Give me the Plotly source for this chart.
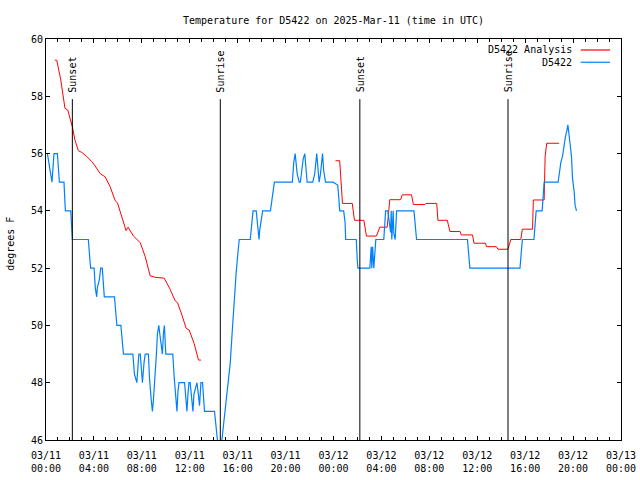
import plotly.graph_objects as go

# ---------------- data ----------------
analysis_times = [
    "2025-03-11 00:44", "2025-03-11 00:54", "2025-03-11 01:14", "2025-03-11 01:35",
    "2025-03-11 01:49", "2025-03-11 02:12", "2025-03-11 02:25", "2025-03-11 02:42",
    "2025-03-11 02:59", "2025-03-11 03:24", "2025-03-11 03:49", "2025-03-11 04:06",
    "2025-03-11 04:31", "2025-03-11 04:56", "2025-03-11 05:21", "2025-03-11 05:46",
    "2025-03-11 05:58", "2025-03-11 06:20", "2025-03-11 06:41", "2025-03-11 06:51",
    "2025-03-11 07:18", "2025-03-11 07:52", "2025-03-11 08:17", "2025-03-11 08:42",
    "2025-03-11 09:07", "2025-03-11 09:52", "2025-03-11 10:19", "2025-03-11 10:47",
    "2025-03-11 10:59", "2025-03-11 11:21", "2025-03-11 11:42", "2025-03-11 11:57",
    "2025-03-11 12:22", "2025-03-11 12:44", "2025-03-11 12:56",
    None,
    "2025-03-12 00:10", "2025-03-12 00:31", "2025-03-12 00:45", "2025-03-12 01:34",
    "2025-03-12 01:45", "2025-03-12 02:32", "2025-03-12 02:45", "2025-03-12 03:35",
    "2025-03-12 03:52", "2025-03-12 04:29", "2025-03-12 04:42", "2025-03-12 05:36",
    "2025-03-12 05:44", "2025-03-12 06:31", "2025-03-12 06:40", "2025-03-12 07:38",
    "2025-03-12 07:43", "2025-03-12 08:37", "2025-03-12 08:43", "2025-03-12 09:30",
    "2025-03-12 09:43", "2025-03-12 10:34", "2025-03-12 10:40", "2025-03-12 11:36",
    "2025-03-12 11:44", "2025-03-12 12:42", "2025-03-12 12:46", "2025-03-12 13:36",
    "2025-03-12 13:44", "2025-03-12 14:34", "2025-03-12 14:48", "2025-03-12 15:38",
    "2025-03-12 15:46", "2025-03-12 16:37", "2025-03-12 16:41", "2025-03-12 17:35",
    "2025-03-12 17:40", "2025-03-12 17:48", "2025-03-12 18:50",
]
analysis_vals = [
    59.26, 59.26, 58.57, 57.58,
    57.52, 56.94, 56.47, 56.10,
    56.04, 55.90, 55.72, 55.57,
    55.30, 55.19, 54.85, 54.36,
    54.28, 53.74, 53.31, 53.43,
    53.12, 52.89, 52.40, 51.73,
    51.68, 51.65, 51.30, 50.86,
    50.79, 50.36, 49.90, 49.84,
    49.37, 48.79, 48.79,
    None,
    55.75, 55.75, 54.26, 54.26,
    53.67, 53.67, 53.12, 53.12,
    53.43, 53.43, 54.39, 54.39,
    54.56, 54.56, 54.22, 54.22,
    54.26, 54.26, 53.67, 53.67,
    53.28, 53.28, 53.16, 53.16,
    52.87, 52.87, 52.75, 52.75,
    52.66, 52.66, 53.00, 53.00,
    53.36, 53.36, 54.38, 54.38,
    55.90, 56.36, 56.36,
]

station_times = [
    "2025-03-11 00:07", "2025-03-11 00:17", "2025-03-11 00:30", "2025-03-11 00:37",
    "2025-03-11 00:40", "2025-03-11 00:57", "2025-03-11 01:07", "2025-03-11 01:30",
    "2025-03-11 01:37", "2025-03-11 02:04", "2025-03-11 02:09", "2025-03-11 02:12",
    "2025-03-11 02:42", "2025-03-11 03:32", "2025-03-11 03:41", "2025-03-11 03:44",
    "2025-03-11 04:01", "2025-03-11 04:07", "2025-03-11 04:14", "2025-03-11 04:17",
    "2025-03-11 04:27", "2025-03-11 04:34", "2025-03-11 04:42", "2025-03-11 04:47",
    "2025-03-11 04:52", "2025-03-11 05:43", "2025-03-11 05:50", "2025-03-11 05:55",
    "2025-03-11 06:15", "2025-03-11 06:20", "2025-03-11 06:28", "2025-03-11 07:15",
    "2025-03-11 07:23", "2025-03-11 07:35", "2025-03-11 07:40", "2025-03-11 07:45",
    "2025-03-11 07:52", "2025-03-11 07:57", "2025-03-11 08:03", "2025-03-11 08:11",
    "2025-03-11 08:17", "2025-03-11 08:33", "2025-03-11 08:38", "2025-03-11 08:47",
    "2025-03-11 08:53", "2025-03-11 08:58", "2025-03-11 09:07", "2025-03-11 09:13",
    "2025-03-11 09:18", "2025-03-11 09:25", "2025-03-11 09:30", "2025-03-11 09:38",
    "2025-03-11 09:43", "2025-03-11 09:48", "2025-03-11 09:53", "2025-03-11 10:00",
    "2025-03-11 10:35", "2025-03-11 10:42", "2025-03-11 10:51", "2025-03-11 10:56",
    "2025-03-11 11:01", "2025-03-11 11:06", "2025-03-11 11:34", "2025-03-11 11:41",
    "2025-03-11 11:46", "2025-03-11 11:51", "2025-03-11 11:56", "2025-03-11 12:02",
    "2025-03-11 12:09", "2025-03-11 12:16", "2025-03-11 12:21", "2025-03-11 12:28",
    "2025-03-11 12:36", "2025-03-11 12:43", "2025-03-11 12:49", "2025-03-11 12:56",
    "2025-03-11 13:04", "2025-03-11 13:09", "2025-03-11 13:14", "2025-03-11 14:04",
    "2025-03-11 14:11", "2025-03-11 14:18", "2025-03-11 14:29", "2025-03-11 14:41",
    "2025-03-11 14:49", "2025-03-11 14:59", "2025-03-11 15:07", "2025-03-11 15:15",
    "2025-03-11 15:23", "2025-03-11 15:32", "2025-03-11 15:40", "2025-03-11 15:52",
    "2025-03-11 16:02", "2025-03-11 16:08", "2025-03-11 17:03", "2025-03-11 17:08",
    "2025-03-11 17:12", "2025-03-11 17:17", "2025-03-11 17:33", "2025-03-11 17:40",
    "2025-03-11 17:47", "2025-03-11 17:50", "2025-03-11 17:57", "2025-03-11 18:05",
    "2025-03-11 18:44", "2025-03-11 18:52", "2025-03-11 18:57", "2025-03-11 19:04",
    "2025-03-11 20:34", "2025-03-11 20:41", "2025-03-11 20:48", "2025-03-11 20:58",
    "2025-03-11 21:08", "2025-03-11 21:14", "2025-03-11 21:21", "2025-03-11 21:28",
    "2025-03-11 21:36", "2025-03-11 21:41", "2025-03-11 21:48", "2025-03-11 22:16",
    "2025-03-11 22:26", "2025-03-11 22:36", "2025-03-11 22:41", "2025-03-11 22:48",
    "2025-03-11 22:55", "2025-03-11 23:05", "2025-03-11 23:11", "2025-03-11 23:20",
    "2025-03-11 23:58", "2025-03-12 00:05", "2025-03-12 00:21", "2025-03-12 00:26",
    "2025-03-12 00:31", "2025-03-12 00:51", "2025-03-12 00:58", "2025-03-12 01:01",
    "2025-03-12 01:54", "2025-03-12 01:59", "2025-03-12 02:02", "2025-03-12 03:02",
    "2025-03-12 03:05", "2025-03-12 03:09", "2025-03-12 03:12", "2025-03-12 03:16",
    "2025-03-12 03:22", "2025-03-12 03:29", "2025-03-12 03:32", "2025-03-12 04:12",
    "2025-03-12 04:17", "2025-03-12 04:21", "2025-03-12 04:32", "2025-03-12 04:37",
    "2025-03-12 04:46", "2025-03-12 04:49", "2025-03-12 04:52", "2025-03-12 04:59",
    "2025-03-12 05:02", "2025-03-12 05:09", "2025-03-12 05:16", "2025-03-12 06:43",
    "2025-03-12 06:51", "2025-03-12 06:56", "2025-03-12 11:11", "2025-03-12 11:17",
    "2025-03-12 11:23", "2025-03-12 15:34", "2025-03-12 15:38", "2025-03-12 15:41",
    "2025-03-12 15:46", "2025-03-12 16:44", "2025-03-12 16:50", "2025-03-12 16:55",
    "2025-03-12 17:25", "2025-03-12 17:30", "2025-03-12 17:35", "2025-03-12 18:45",
    "2025-03-12 18:52", "2025-03-12 18:59", "2025-03-12 19:07", "2025-03-12 19:15",
    "2025-03-12 19:22", "2025-03-12 19:29", "2025-03-12 19:34", "2025-03-12 19:39",
    "2025-03-12 19:45", "2025-03-12 19:52", "2025-03-12 19:57", "2025-03-12 20:05",
    "2025-03-12 20:10", "2025-03-12 20:17",
]
station_vals = [
    56, 55.5, 55, 55.7,
    56, 56, 55, 55,
    54, 54, 53.3, 53,
    53, 53, 52.2, 52,
    52, 51.3, 51, 51.3,
    51.6, 52, 52, 51.5,
    51, 51, 50.5, 50,
    50, 49.6, 49, 49,
    48.3, 48, 48.7, 49,
    49, 48.5, 48, 48.7,
    49, 49, 48.2, 47.4,
    47, 47.4, 48.2, 49,
    49.7, 50, 49.7, 49.3,
    49, 49.7, 50, 49,
    49, 48.2, 47.5, 47,
    47.7, 48, 48, 47.4,
    47, 47.6, 48, 48,
    47.4, 47, 47.6, 47.8,
    48, 47.6, 47.2, 48,
    48, 47.5, 47, 47,
    46.4, 46, 45.3, 46,
    46.5, 47, 47.5, 48,
    48.7, 49.7, 50.65, 51.8,
    52.6, 53, 53, 53.3,
    53.75, 54, 54, 53.45,
    53, 53.3, 53.6, 54,
    54, 54.4, 54.7, 55,
    55, 55.7, 56, 55.3,
    55, 55, 55.4, 55.8,
    56, 55.4, 55, 55,
    55.3, 56, 55.4, 55,
    55.3, 56, 55.4, 55,
    55, 54.97, 54.9, 54.5,
    54, 54, 53.6, 53,
    53, 52.3, 52, 52,
    52.6, 52.75, 52, 52.75,
    52, 52.75, 53, 53,
    53.7, 54, 54, 53.65,
    53.25, 54, 53, 54,
    53.2, 53, 54, 54,
    53.5, 53, 53, 52.4,
    52, 52, 52.4, 52.8,
    53, 53, 53.6, 54,
    54, 54.7, 55, 55,
    55.35, 55.7, 55.9, 56.3,
    56.6, 56.8, 57, 56.7,
    56.25, 55.9, 55.15, 54.7,
    54.2, 54,
]

sun_event_times = ["2025-03-11 02:12", "2025-03-11 14:33", "2025-03-12 02:12", "2025-03-12 14:34"]
sun_event_labels = ["Sunset", "Sunrise", "Sunset", "Sunrise"]

series_names = ["D5422 Analysis", "D5422"]
series_colors = ["#ff0000", "#0080ff"]

title_text = "Temperature for D5422 on 2025-Mar-11 (time in UTC)"
y_label = "degrees F"

# ---------------- figure ----------------
FONT = "DejaVu Sans Mono"

fig = go.Figure()
fig.add_trace(go.Scatter(x=analysis_times, y=analysis_vals, mode="lines",
                         name=series_names[0], connectgaps=False,
                         line=dict(color=series_colors[0], width=1)))
fig.add_trace(go.Scatter(x=station_times, y=station_vals, mode="lines",
                         name=series_names[1],
                         line=dict(color=series_colors[1], width=1.2)))

shapes = []
annotations = []
for t, lab in zip(sun_event_times, sun_event_labels):
    shapes.append(dict(type="line", xref="x", yref="paper", x0=t, x1=t, y0=0, y1=0.85,
                       line=dict(color="black", width=1)))
    annotations.append(dict(x=t, y=0.862, xref="x", yref="paper", text=lab, textangle=-90,
                            showarrow=False, xanchor="center", yanchor="bottom",
                            font=dict(family=FONT, size=10, color="black")))

# gnuplot-style key (text right, sample line after)
legend_rows = [0.9726, 0.942]
for name, col, yy in zip(series_names, series_colors, legend_rows):
    annotations.append(dict(x=0.918, y=yy, xref="paper", yref="paper", text=name,
                            showarrow=False, xanchor="right", yanchor="middle",
                            font=dict(family=FONT, size=10, color="black")))
    shapes.append(dict(type="line", xref="paper", yref="paper", x0=0.930, x1=0.981,
                       y0=yy, y1=yy, line=dict(color=col, width=1.2)))

annotations.append(dict(x=-0.062, y=0.49, xref="paper", yref="paper", text=y_label,
                        textangle=-90, showarrow=False, xanchor="center", yanchor="middle",
                        font=dict(family=FONT, size=10, color="black")))

fig.update_layout(
    width=640, height=480,
    margin=dict(l=46, r=19, t=39, b=40, pad=0, autoexpand=False),
    paper_bgcolor="white", plot_bgcolor="white",
    showlegend=False,
    font=dict(family=FONT, size=10, color="black"),
    title=dict(text=title_text, x=0.5, xref="paper", y=1 - 20 / 480, yref="container",
               xanchor="center", yanchor="middle",
               font=dict(family=FONT, size=10, color="black")),
    shapes=shapes, annotations=annotations,
)
fig.update_xaxes(
    type="date", range=["2025-03-11 00:00", "2025-03-13 00:00"],
    tick0="2025-03-11 00:00", dtick=4 * 3600 * 1000, tickformat="%m/%d<br>%H:%M",
    ticks="inside", ticklen=4, tickcolor="black", tickwidth=1,
    minor=dict(dtick=3600 * 1000, ticks="inside", ticklen=3, tickcolor="black"),
    showline=True, linecolor="black", linewidth=1, mirror="allticks",
    showgrid=False, zeroline=False, automargin=False, ticklabelstandoff=6,
    tickfont=dict(family=FONT, size=10, color="black"),
)
fig.update_yaxes(
    range=[46, 60], dtick=2, tick0=46,
    ticks="inside", ticklen=4, tickcolor="black", tickwidth=1,
    showline=True, linecolor="black", linewidth=1, mirror="allticks",
    showgrid=False, zeroline=False, automargin=False,
    tickfont=dict(family=FONT, size=10, color="black"),
)

fig.write_html("out.html", config={"displayModeBar": False},
               post_script="document.body.style.margin='0px';")
